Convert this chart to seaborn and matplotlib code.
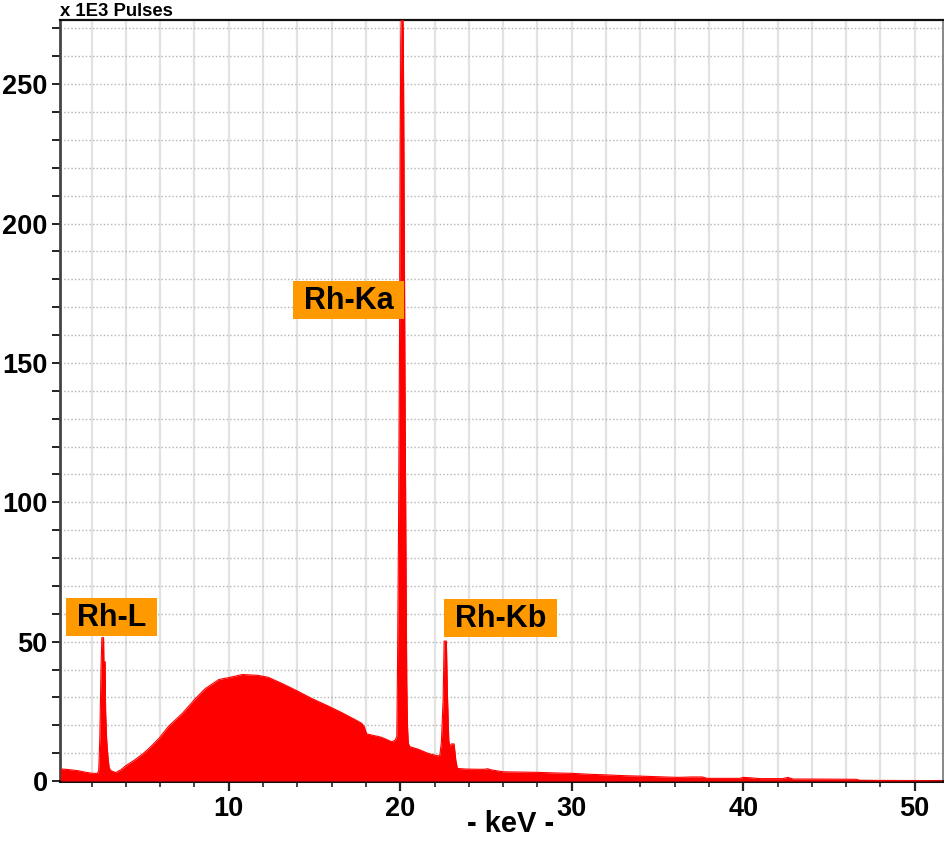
import matplotlib
matplotlib.use("Agg")
import matplotlib.pyplot as plt
from matplotlib.ticker import MultipleLocator
from matplotlib.patches import Rectangle
import seaborn as sns
import pandas as pd

# ---- data (keV, x1E3 pulses) ----
energy_kev = [
    0.22, 0.25, 0.5, 0.8, 1.2, 1.6, 2.0, 2.35,
    2.42, 2.48, 2.55, 2.6, 2.7, 2.72, 2.79, 2.82, 2.88, 2.95, 3.02, 3.1,
    3.4, 3.7, 4.0, 4.5, 5.0, 5.35, 5.93, 6.5, 7.3, 8.06, 8.64, 9.42, 10.0,
    10.8, 11.7, 12.3, 13.1, 13.9, 14.84, 15.8, 16.6, 17.4, 17.75, 17.9,
    18.04, 18.9, 19.5, 19.7, 19.8,
    19.84, 19.9, 19.96, 20.0, 20.03, 20.07, 20.14, 20.18, 20.22, 20.28,
    20.34, 20.38, 20.42, 20.47, 20.56,
    21.05, 21.63, 22.2, 22.31, 22.4, 22.5, 22.56, 22.69, 22.75, 22.83,
    22.89, 22.98, 23.14, 23.24, 23.33,
    23.8, 24.5, 24.9, 25.1, 25.3, 26.0, 27.0, 28.0, 29.0, 30.0, 31.1,
    32.0, 33.1, 34.0, 35.4, 36.2, 37.0, 37.6, 37.9, 38.8, 39.8, 40.0,
    40.3, 41.0, 42.3, 42.6, 42.9, 44.0, 45.5, 46.6, 46.8, 48.0, 50.0, 51.6,
]
counts_k = [
    0.0, 4.3, 4.2, 4.0, 3.7, 3.2, 2.8, 2.7,
    4.0, 15.0, 40.0, 51.4, 51.4, 42.8, 42.8, 25.0, 15.0, 9.0, 5.0, 3.8,
    3.0, 4.0, 5.5, 7.5, 9.8, 11.7, 15.3, 19.7, 24.3, 29.6, 33.2, 36.4, 37.1,
    38.2, 37.9, 37.2, 35.0, 32.6, 29.6, 26.9, 24.5, 21.9, 20.7, 19.5,
    16.9, 15.7, 14.1, 14.6, 16.0,
    40.0, 90.0, 160.0, 230.0, 265.0, 277.0, 277.0, 268.0, 220.0, 140.0,
    75.0, 36.0, 20.0, 13.5, 12.3,
    11.4, 9.9, 9.0, 9.3, 14.0, 29.0, 50.2, 50.2, 31.5, 14.7,
    12.3, 13.3, 13.3, 7.5, 4.5,
    4.3, 4.2, 4.2, 4.4, 4.0, 3.3, 3.2, 3.1, 2.9, 2.75, 2.4,
    2.2, 1.9, 1.75, 1.45, 1.3, 1.45, 1.45, 0.95, 0.95, 0.95, 1.3,
    1.2, 0.85, 0.85, 1.3, 0.7, 0.7, 0.65, 0.6, 0.25, 0.2, 0.15, 0.1,
]

peak_names = ["Rh-L", "Rh-Ka", "Rh-Kb"]

y_unit_label = "x 1E3 Pulses"
x_label = "- keV -"

df = pd.DataFrame({"keV": energy_kev, "pulses": counts_k})

# ---- figure ----
sns.set_style("white")
plt.rcParams["font.family"] = ["Liberation Sans", "DejaVu Sans"]
plt.rcParams["font.weight"] = "bold"
plt.rcParams["text.color"] = "black"
plt.rcParams["xtick.color"] = "black"
plt.rcParams["ytick.color"] = "black"

fig = plt.figure(figsize=(9.44, 8.43), dpi=100)
ax = fig.add_axes([60 / 944, 62 / 843, 883 / 944, 761.5 / 843])

ax.fill_between(df["keV"], df["pulses"], 0, color="#ff0000", linewidth=0, zorder=3)
sns.lineplot(data=df, x="keV", y="pulses", ax=ax, color="#ff0000",
             linewidth=0.8, zorder=4, sort=False)

ax.set_xlim(0.16, 51.65)
ax.set_ylim(0, 273.2)

ax.xaxis.set_major_locator(MultipleLocator(10))
ax.xaxis.set_minor_locator(MultipleLocator(2))
ax.yaxis.set_major_locator(MultipleLocator(50))
ax.yaxis.set_minor_locator(MultipleLocator(10))

ax.set_axisbelow(True)
ax.xaxis.grid(True, which="both", color="#e2e2e2", linewidth=1.6, linestyle="-", zorder=0)
ax.yaxis.grid(True, which="both", color="#b4b4b4", linewidth=1.0,
              linestyle=(0, (1.0, 1.6)), zorder=0)

ax.tick_params(axis="x", which="major", direction="out", length=7, width=1.6,
               color="#222222", labelsize=19.5, labelcolor="black", pad=4)
ax.tick_params(axis="x", which="minor", direction="out", length=4, width=1.4,
               color="#444444")
ax.tick_params(axis="y", which="both", direction="out", length=6, width=1.4,
               color="#222222", labelsize=19.5, labelcolor="black", pad=3)
ax.tick_params(bottom=True, left=True, which="both")
for lab in ax.get_xticklabels() + ax.get_yticklabels():
    lab.set_fontweight("bold")

for side, col, lw in [("bottom", "#111111", 2.2), ("left", "#444444", 2.0),
                      ("top", "#111111", 1.6), ("right", "#888888", 1.4)]:
    ax.spines[side].set_visible(True)
    ax.spines[side].set_color(col)
    ax.spines[side].set_linewidth(lw)

ax.set_ylabel("")
ax.set_xlabel(x_label, fontsize=21, fontweight="bold", color="black")
ax.xaxis.set_label_coords(0.5108, -0.0381)
ax.xaxis.label.set_verticalalignment("top")

fig.text(60 / 944, 1 - 3 / 843, y_unit_label, ha="left", va="top",
         fontsize=13.3, fontweight="bold")

label_pos = [(3.17, 58.3), (16.98, 172.3), (25.84, 58.1)]
texts = []
for name, (lx, ly) in zip(peak_names, label_pos):
    t = ax.text(lx, ly, name, ha="center", va="center", fontsize=22,
                fontweight="bold", color="black", zorder=6)
    texts.append(t)

fig.canvas.draw()
renderer = fig.canvas.get_renderer()
inv = ax.transAxes.inverted()
for t in texts:
    bb = t.get_window_extent(renderer)
    cx, cy = (bb.x0 + bb.x1) / 2, (bb.y0 + bb.y1) / 2
    w = bb.width + 22
    h = 38
    (x0, y0) = inv.transform((cx - w / 2, cy - h / 2 + 1))
    (x1, y1) = inv.transform((cx + w / 2, cy + h / 2 + 1))
    ax.add_patch(Rectangle((x0, y0), x1 - x0, y1 - y0, transform=ax.transAxes,
                           facecolor="#ff9900", edgecolor="none", zorder=5))

fig.savefig("out.png", dpi=100)
